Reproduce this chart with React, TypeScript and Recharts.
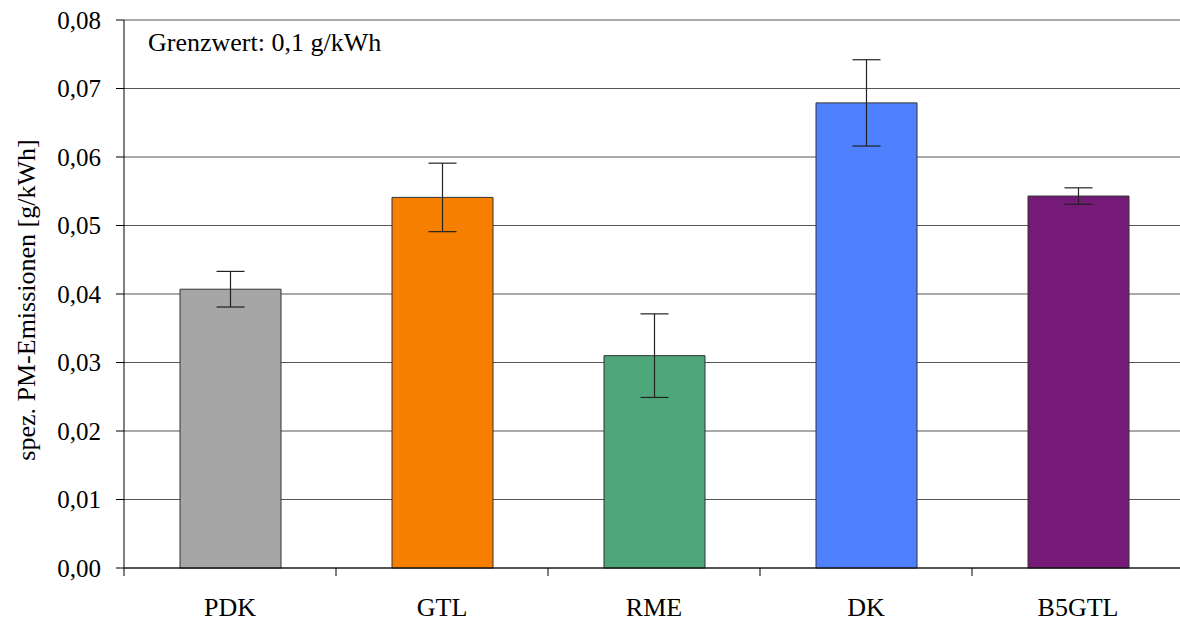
import { BarChart, Bar, XAxis, YAxis, CartesianGrid, ErrorBar, Cell } from 'recharts'

const categories = ['PDK', 'GTL', 'RME', 'DK', 'B5GTL']
const emissions = [0.0407, 0.0541, 0.031, 0.0679, 0.0543]
const deviations = [0.0026, 0.005, 0.0061, 0.0063, 0.0012]
const barColors = ['#a6a6a6', '#f77f00', '#4ea77a', '#4f81ff', '#761a78']
const yTicks = [0, 0.01, 0.02, 0.03, 0.04, 0.05, 0.06, 0.07, 0.08]

const data = categories.map((name, i) => ({
  name,
  value: emissions[i],
  err: deviations[i],
}))

const font = '"Liberation Serif", "Times New Roman", serif'
const X_TICK_SIZE = 6
const X_TICK_MARGIN = 24

const formatTick = (v: number) => v.toFixed(2).replace('.', ',')

// category label plus the small tick marks Excel draws between categories
function CategoryTick(props: any) {
  const { x, y, payload, index, visibleTicksCount, width } = props
  const half = payload?.offset || width / visibleTicksCount / 2
  const axisY = y - X_TICK_SIZE - X_TICK_MARGIN
  const isLast = index === visibleTicksCount - 1
  return (
    <g>
      <line x1={x - half} x2={x - half} y1={axisY} y2={axisY + 8} stroke="#000" />
      {isLast && <line x1={x + half} x2={x + half} y1={axisY} y2={axisY + 8} stroke="#000" />}
      <text
        x={x}
        y={y}
        dy="0.71em"
        textAnchor="middle"
        fill="#000"
        fontSize={26}
        fontFamily={font}
      >
        {payload.value}
      </text>
    </g>
  )
}

export default function App() {
  return (
    <div
      style={{
        position: 'absolute',
        left: 0,
        top: 0,
        width: 1180,
        height: 621,
        overflow: 'hidden',
        background: '#fff',
        fontFamily: font,
      }}
    >
      <BarChart
        width={1190}
        height={621}
        data={data}
        margin={{ top: 20, right: 6, bottom: 0, left: 0 }}
        barSize={101}
      >
        <CartesianGrid vertical={false} stroke="#555" strokeWidth={1} />
        <XAxis
          dataKey="name"
          height={53}
          axisLine={{ stroke: '#000' }}
          tickLine={false}
          tickSize={X_TICK_SIZE}
          tickMargin={X_TICK_MARGIN}
          tick={<CategoryTick />}
        />
        <YAxis
          width={124}
          domain={[0, 0.08]}
          ticks={yTicks}
          tickFormatter={formatTick}
          axisLine={{ stroke: '#000' }}
          tickLine={{ stroke: '#000' }}
          tickSize={8}
          tickMargin={15}
          tick={{ fill: '#000', fontSize: 25, fontFamily: font }}
          label={{
            value: 'spez. PM-Emissionen [g/kWh]',
            angle: -90,
            position: 'insideLeft',
            offset: 26,
            dy: 6,
            style: { textAnchor: 'middle', fill: '#000', fontSize: 26, fontFamily: font },
          }}
        />
        <Bar dataKey="value" stroke="#333" strokeWidth={1} isAnimationActive={false}>
          {data.map((d, i) => (
            <Cell key={d.name} fill={barColors[i]} />
          ))}
          <ErrorBar dataKey="err" width={14} stroke="#222" strokeWidth={1.2} direction="y" />
        </Bar>
      </BarChart>
      <div
        style={{
          position: 'absolute',
          left: 148,
          top: 30,
          fontSize: 26,
          lineHeight: 1,
          color: '#000',
          whiteSpace: 'nowrap',
        }}
      >
        Grenzwert: 0,1 g/kWh
      </div>
    </div>
  )
}
